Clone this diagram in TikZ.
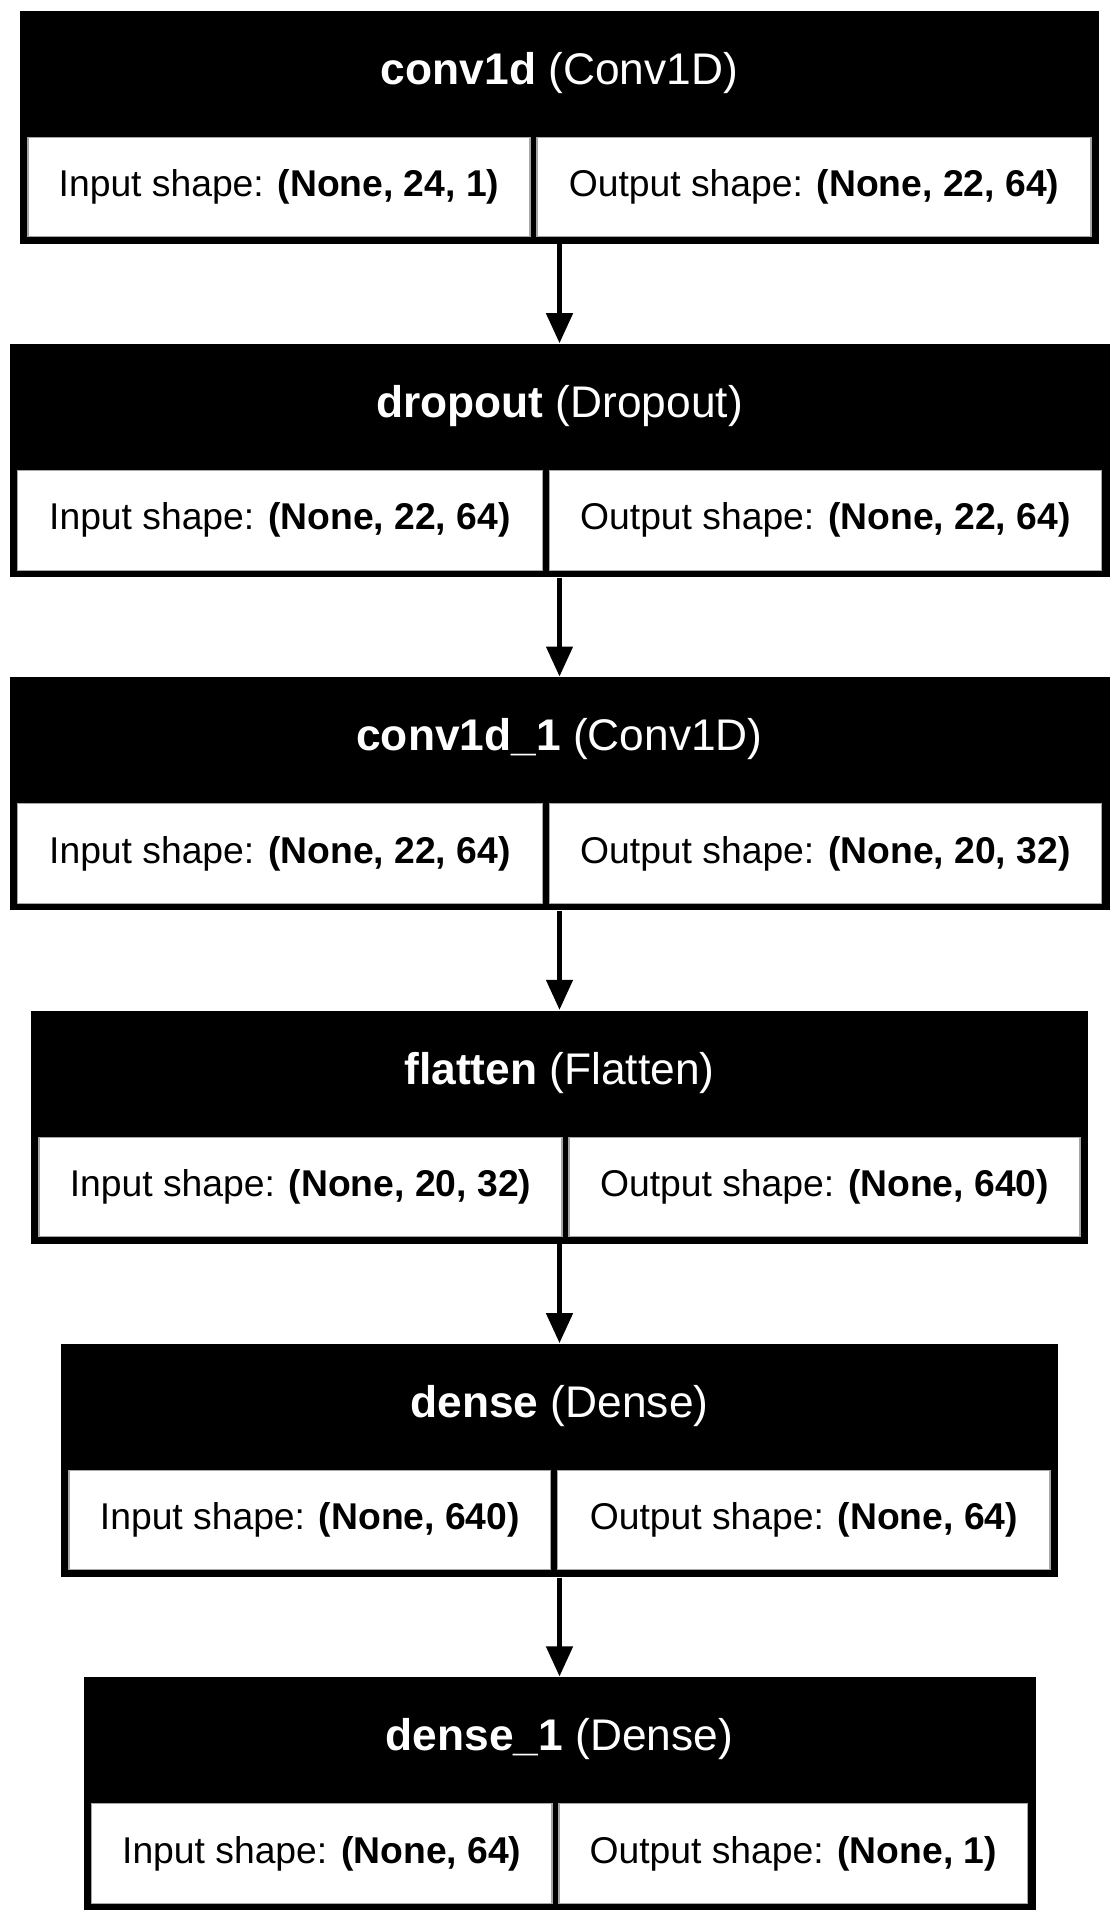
\documentclass[tikz,border=0pt]{standalone}
\usepackage{fontspec}
\setmainfont{Liberation Sans}
\usetikzlibrary{arrows.meta}

\tikzset{
  layer/.style={fill=black, inner sep=0pt, minimum height=2.33cm},
  head/.style={text=white, inner sep=0pt, font=\fontsize{12.6}{15}\selectfont},
  cell/.style={fill=white, draw=gray!70, line width=0.3pt, inner sep=0pt,
    minimum height=0.995cm, font=\fontsize{10.6}{13}\selectfont},
  flow/.style={line width=0.047cm, -{Triangle[length=0.3cm,width=0.26cm]}},
}

\begin{document}
\begin{tikzpicture}[x=0.01cm, y=-0.01cm]
        \useasboundingbox (0,0) rectangle (1119,1922);
        % one block per layer: black frame, title, two shape cells
        \foreach \n/\lbl/\kind/\inp/\outp/\l/\d [count=\i from 0] in {
            conv1d/conv1d/Conv1D/{24, 1}/{22, 64}/20/533.5,
            dropout/dropout/Dropout/{22, 64}/{22, 64}/9.5/545.7,
            conv1d1/conv1d\_1/Conv1D/{22, 64}/{20, 32}/9.5/545.7,
            flatten/flatten/Flatten/{20, 32}/{640}/31/565.5,
            dense/dense/Dense/{640}/{64}/61/554.3,
            dense1/dense\_1/Dense/{64}/{1}/83.5/555.5} {
            \pgfmathsetmacro\t{10.7+333.3*\i}
            \pgfmathsetmacro\w{1119-2*\l}
            \pgfmathsetmacro\lw{\d-3.5-\l-8}
            \pgfmathsetmacro\rw{1119-\l-8-\d-3.5}
            \node[layer, minimum width=\w*0.01cm] (\n) at (559.5, {\t+116.5}) {};
            \node[head] (\n-title) at (559.5, {\t+62}) {\textbf{\lbl} (\kind)};
            \node[cell, minimum width=\lw*0.01cm] (\n-in) at ({(\l+8+\d-3.5)/2}, {\t+176.25})
                {Input shape: \textbf{(None, \inp)}};
            \node[cell, minimum width=\rw*0.01cm] (\n-out) at ({(\d+3.5+1119-\l-8)/2}, {\t+176.25})
                {Output shape: \textbf{(None, \outp)}};
        }
        \foreach \a/\b in {conv1d/dropout, dropout/conv1d1, conv1d1/flatten, flatten/dense, dense/dense1} {
            \draw[flow] (\a) -- (\b);
        }
\end{tikzpicture}
\end{document}
